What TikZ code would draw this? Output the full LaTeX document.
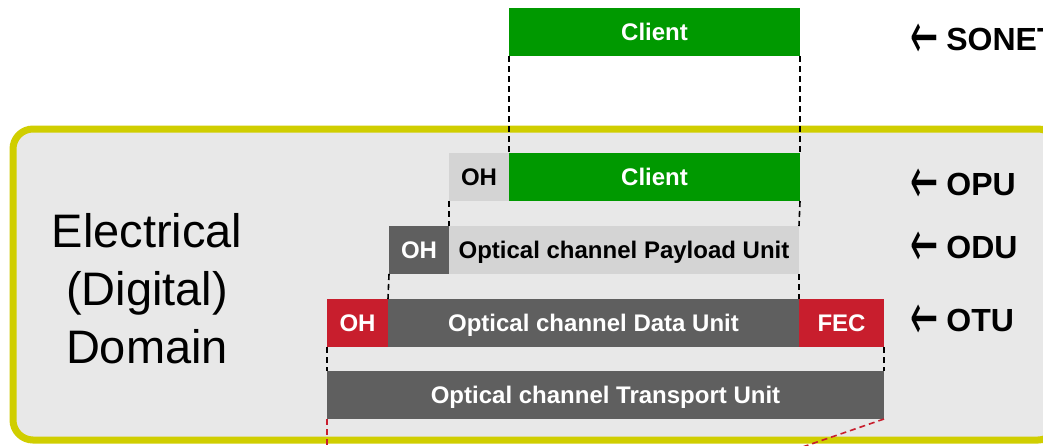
\documentclass[tikz,border=0pt]{standalone}
\usepackage{fontspec}
\usepackage{graphicx}
\setmainfont{Liberation Sans}
\newfontfamily\arrowfont{DejaVu Sans}
\definecolor{okgreen}{RGB}{0,153,0}
\definecolor{darkbox}{RGB}{95,95,95}
\definecolor{lightbox}{RGB}{212,212,212}
\definecolor{fecred}{RGB}{200,30,45}
\definecolor{domainbg}{RGB}{232,232,232}
\definecolor{domainrim}{RGB}{208,206,0}
% tall left arrow in front of each layer name
\newcommand{\leftarr}{\raisebox{-8pt}{\scalebox{1.05}[2.05]{\arrowfont\mdseries ←}}}
\begin{document}
\begin{tikzpicture}[x=1pt,y=-1pt,
  unit/.style={rectangle, anchor=north west, inner sep=0pt, outer sep=0pt,
    minimum height=48pt, text height=17pt, text depth=0pt,
    font=\fontsize{24}{28}\selectfont\bfseries, text=white},
  guide/.style={draw=black, line width=1.6pt, dash pattern=on 6pt off 4pt},
  fecguide/.style={draw=fecred, line width=1.6pt, dash pattern=on 6pt off 4pt},
  layer/.style={anchor=base west, inner sep=0pt,
    font=\fontsize{32}{36}\selectfont\bfseries}]
\clip (0,0) rectangle (1043,445);
\fill[white] (0,0) rectangle (1043,445);

% client signal as carried by SONET
\node[unit, fill=okgreen, minimum width=291pt] (sonetclient) at (509,8) {Client};

% electrical domain panel
\fill[domainbg, rounded corners=20pt] (13,129) rectangle (1058,440);
\draw[domainrim, line width=7pt, rounded corners=20pt] (13,129) rectangle (1058,440);

\node[font=\fontsize{47}{58}\selectfont, align=center, anchor=base, inner sep=0pt]
  (domainname) at (147,363) {Electrical\\(Digital)\\Domain};

% OPU row
\node[unit, fill=lightbox, text=black, minimum width=60pt] (opuoh) at (449,153) {OH};
\node[unit, fill=okgreen, minimum width=291pt] (opuclient) at (509,153) {Client};

% ODU row
\node[unit, fill=darkbox, minimum width=60pt] (oduoh) at (389,226) {OH};
\node[unit, fill=lightbox, text=black, minimum width=350pt] (opu) at (449,226) {Optical channel Payload Unit};

% OTU row
\node[unit, fill=fecred, minimum width=61pt] (otuoh) at (327,299) {OH};
\node[unit, fill=darkbox, minimum width=411pt] (odu) at (388,299) {Optical channel Data Unit};
\node[unit, fill=fecred, minimum width=85pt] (fec) at (799,299) {FEC};

% transport unit
\node[unit, fill=darkbox, minimum width=557pt] (otu) at (327,371) {Optical channel Transport Unit};

% mapping guides
\draw[guide] (sonetclient.south west) -- (opuclient.north west);
\draw[guide] (sonetclient.south east) -- (opuclient.north east);
\draw[guide] (opuoh.south west) -- (opu.north west);
\draw[guide] (opuclient.south east) -- (opu.north east);
\draw[guide] (oduoh.south west) -- (odu.north west);
\draw[guide] (opu.south east) -- (odu.north east);
\draw[guide] (otuoh.south west) -- (otu.north west);
\draw[guide] (fec.south east) -- (otu.north east);

\coordinate (lowleft) at (327,452);
\coordinate (lowright) at (788,452);
\draw[fecguide] (otu.south west) -- (lowleft);
\draw[fecguide] (otu.south east) -- (lowright);

% layer labels
\node[layer] (sonetlbl) at (910,50) {\leftarr\hspace{8pt}SONET};
\node[layer] (opulbl) at (910,195) {\leftarr\hspace{8pt}OPU};
\node[layer] (odulbl) at (910,258) {\leftarr\hspace{8pt}ODU};
\node[layer] (otulbl) at (910,331) {\leftarr\hspace{8pt}OTU};
\end{tikzpicture}
\end{document}
